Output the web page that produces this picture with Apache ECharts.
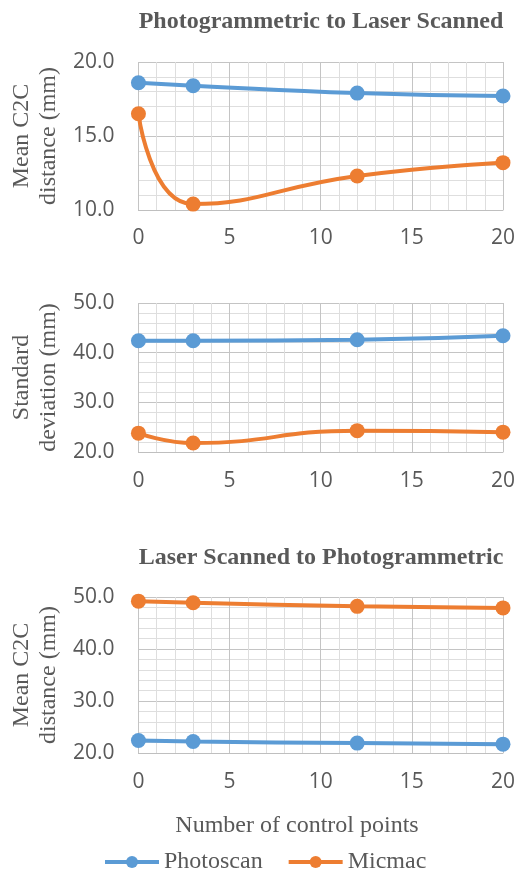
<!DOCTYPE html>
<html>
<head>
<meta charset="utf-8">
<script src="https://cdn.jsdelivr.net/npm/echarts@6/dist/echarts.min.js"></script>
<style>html,body{margin:0;padding:0;background:#fff;}#c{width:518px;height:874px;}</style>
</head>
<body>
<div id="c"></div>
<script>
const controlPoints = [0, 3, 12, 20];
const meanP2L_photoscan = [18.6, 18.4, 17.9, 17.7];
const meanP2L_micmac = [16.5, 10.4, 12.3, 13.2];
const std_photoscan = [42.4, 42.4, 42.6, 43.4];
const std_micmac = [23.8, 21.8, 24.3, 24.0];
const meanL2P_photoscan = [22.4, 22.2, 21.9, 21.7];
const meanL2P_micmac = [49.2, 48.9, 48.2, 47.9];
const seriesNames = ['Photoscan', 'Micmac'];
const xTicks = [0, 5, 10, 15, 20];

const BLUE = '#5B9BD5', ORANGE = '#ED7D31', TXT = '#595959';
const sansFont = '"Open Sans", sans-serif';
const serifFont = '"Liberation Serif", "Times New Roman", serif';

function pairs(ys) { return controlPoints.map((x, i) => [x, ys[i]]); }

const chart = echarts.init(document.getElementById('c'), null, {renderer: 'canvas'});

const grids = [
  {left: 137, right: 15, top: 62, height: 148},
  {left: 137, right: 15, top: 303, height: 149},
  {left: 137, right: 15, top: 597, height: 156}
];
const yCfg = [
  {min: 10, max: 20, interval: 5, name: 'Mean C2C\ndistance (mm)'},
  {min: 20, max: 50, interval: 10, name: 'Standard\ndeviation (mm)'},
  {min: 20, max: 50, interval: 10, name: 'Mean C2C\ndistance (mm)'}
];

const xAxes = grids.map((g, i) => ({
  gridIndex: i, type: 'value', min: xTicks[0], max: xTicks[xTicks.length - 1], interval: 5,
  axisLine: {show: true, lineStyle: {color: '#BFBFBF', width: 1}},
  axisTick: {show: false},
  minorTick: {show: false, splitNumber: 5},
  splitLine: {show: true, lineStyle: {color: '#C4C4C4', width: 1}},
  minorSplitLine: {show: true, lineStyle: {color: '#DEDEDE', width: 1}},
  axisLabel: {color: TXT, fontFamily: sansFont, fontSize: 21, margin: i === 0 ? 18 : 19}
}));
const yAxes = yCfg.map((c, i) => ({
  gridIndex: i, type: 'value', min: c.min, max: c.max, interval: c.interval,
  name: c.name, nameLocation: 'middle', nameGap: 74, nameRotate: 90,
  nameTextStyle: {color: TXT, fontFamily: serifFont, fontSize: 24, lineHeight: 27},
  axisLine: {show: false}, axisTick: {show: false},
  minorTick: {show: false, splitNumber: 5},
  splitLine: {show: true, lineStyle: {color: '#C4C4C4', width: 1}},
  minorSplitLine: {show: true, lineStyle: {color: '#DEDEDE', width: 1}},
  axisLabel: {color: TXT, fontFamily: sansFont, fontSize: 21, margin: 24,
    formatter: v => v.toFixed(1)}
}));

function line(name, color, data, idx) {
  return {
    name, type: 'line', xAxisIndex: idx, yAxisIndex: idx, data: pairs(data),
    smooth: 0.5, symbol: 'circle', symbolSize: 15,
    lineStyle: {color, width: 4}, itemStyle: {color},
    emphasis: {disabled: true}
  };
}

chart.setOption({
  animation: false,
  backgroundColor: '#fff',
  title: [
    {text: 'Photogrammetric to Laser Scanned', left: 316, top: 5, textAlign: 'center',
     textStyle: {fontFamily: serifFont, fontWeight: 'bold', fontSize: 24, color: TXT}},
    {text: 'Laser Scanned to Photogrammetric', left: 316, top: 541, textAlign: 'center',
     textStyle: {fontFamily: serifFont, fontWeight: 'bold', fontSize: 24, color: TXT}},
    {text: 'Number of control points', left: 292, top: 809, textAlign: 'center',
     textStyle: {fontFamily: serifFont, fontWeight: 'normal', fontSize: 24, color: TXT}}
  ],
  legend: {
    data: seriesNames, left: 103, top: 850, padding: 0, itemWidth: 54, itemHeight: 15, itemGap: 24,
    lineStyle: {width: 4},
    textStyle: {color: TXT, fontFamily: serifFont, fontSize: 24}
  },
  grid: grids,
  xAxis: xAxes,
  yAxis: yAxes,
  series: [
    line(seriesNames[0], BLUE, meanP2L_photoscan, 0),
    line(seriesNames[1], ORANGE, meanP2L_micmac, 0),
    line(seriesNames[0], BLUE, std_photoscan, 1),
    line(seriesNames[1], ORANGE, std_micmac, 1),
    line(seriesNames[0], BLUE, meanL2P_photoscan, 2),
    line(seriesNames[1], ORANGE, meanL2P_micmac, 2)
  ]
});
</script>
</body>
</html>
